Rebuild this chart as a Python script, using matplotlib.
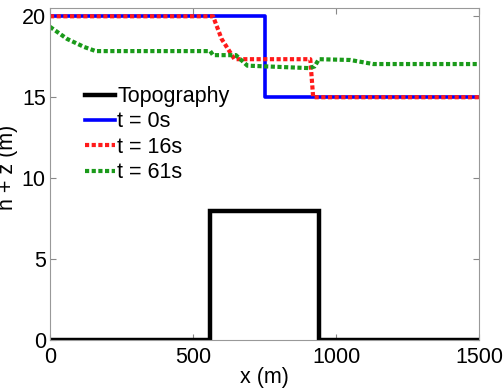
import matplotlib
matplotlib.use("Agg")
import matplotlib.pyplot as plt

# ---------------------------------------------------------
# Data
# ---------------------------------------------------------
topo_x = [0, 560, 560, 940, 940, 1500]
topo_y = [0, 0, 8, 8, 0, 0]

t0_x = [0, 750, 750, 1500]
t0_y = [20, 20, 15, 15]

t16_x = [0, 570, 600, 645, 910, 920, 1500]
t16_y = [20, 20, 18.6, 17.35, 17.35, 15, 15]

t61_x = [0, 60, 120, 160, 560, 570, 650, 690, 905, 925, 940, 1050, 1130, 1500]
t61_y = [19.35, 18.6, 18.1, 17.85, 17.85, 17.6, 17.6, 16.95, 16.8, 16.9, 17.35, 17.3, 17.05, 17.05]

x_ticks = [0, 500, 1000, 1500]
y_ticks = [0, 5, 10, 15, 20]

plt.rcParams["font.family"] = ["Liberation Sans", "DejaVu Sans"]

fig = plt.figure(figsize=(5.03, 3.9), dpi=100)
ax = fig.add_axes([0.0994, 0.128, 0.853, 0.851])

ax.plot(topo_x, topo_y, color="black", lw=3.2, label="Topography", solid_joinstyle="miter")
ax.plot(t0_x, t0_y, color="#0000ff", lw=2.6, label="t = 0s")
ax.plot(t16_x, t16_y, color="#ff1a1a", lw=3, ls=(0, (1, 0.6)), label="t = 16s")
ax.plot(t61_x, t61_y, color="#1a9a1a", lw=3, ls=(0, (1, 0.6)), label="t = 61s")

ax.set_xlim(0, 1500)
ax.set_ylim(0, 20.5)
ax.set_xticks(x_ticks)
ax.set_yticks(y_ticks)
ax.tick_params(direction="in", length=4, labelsize=15.5, top=True, right=True,
               color="#888888")
ax.tick_params(axis="x", pad=5)
ax.tick_params(axis="y", pad=3)
for s in ax.spines.values():
    s.set_color("#999999")
    s.set_linewidth(0.8)

ax.set_xlabel("x (m)", fontsize=15.5, labelpad=-1)
ax.set_ylabel("h + z (m)", fontsize=15.5, va="center")
ax.yaxis.set_label_coords(-0.1, 0.52)

ax.legend(loc="upper left", bbox_to_anchor=(0.082, 0.765), frameon=False,
          fontsize=15.5, handlelength=1.4, handletextpad=0.1,
          labelspacing=0.2, borderaxespad=0, borderpad=0)

fig.savefig("out.png", dpi=100)
